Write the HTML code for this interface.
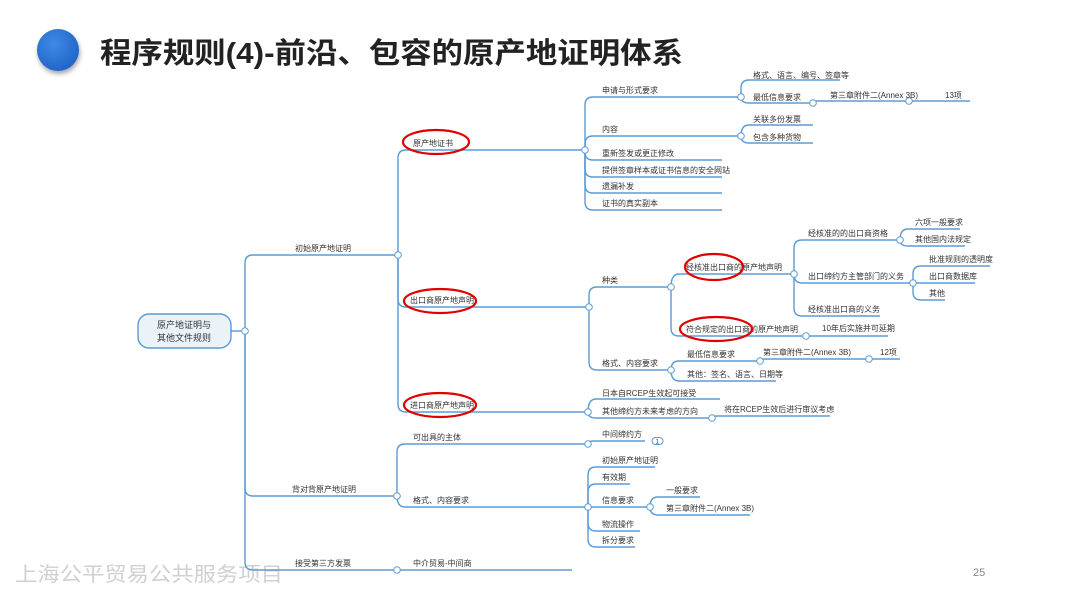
<!DOCTYPE html>
<html><head><meta charset="utf-8"><style>
html,body{margin:0;padding:0;background:#fff;}
svg{display:block;}
text{font-family:"Liberation Sans","Noto Sans CJK SC",sans-serif;font-size:8px;fill:#333;}
.l{fill:none;stroke:#5b9bd5;stroke-width:1.4;}
.c{fill:#fff;stroke:#5b9bd5;stroke-width:1;}
.e{fill:none;stroke:#e00000;stroke-width:2.2;}
</style></head><body>
<svg width="1067" height="600" viewBox="0 0 1067 600" xmlns="http://www.w3.org/2000/svg">
<defs>
<radialGradient id="g" cx="0.4" cy="0.35" r="0.7"><stop offset="0" stop-color="#3f8ae6"/><stop offset="1" stop-color="#1f63c6"/></radialGradient>
<filter id="s" x="-50%" y="-50%" width="200%" height="200%"><feDropShadow dx="1" dy="3" stdDeviation="2.5" flood-color="#000" flood-opacity="0.35"/></filter>
</defs>
<circle cx="58" cy="50" r="21" fill="url(#g)" filter="url(#s)"/>
<text x="100" y="63" style="font-size:29px;font-weight:bold;fill:#222" textLength="583" lengthAdjust="spacingAndGlyphs">程序规则(4)-前沿、包容的原产地证明体系</text>
<text x="15" y="581" style="font-size:20px;fill:#d0d0d0" textLength="268" lengthAdjust="spacingAndGlyphs">上海公平贸易公共服务项目</text>
<text x="973" y="576" style="font-size:11px;fill:#888">25</text>

<g class="l">
<path d="M231 331 H245"/>
<path d="M245 331 V263 Q245 255 253 255 H398"/>
<path d="M245 331 V488 Q245 496 253 496 H397"/>
<path d="M245 331 V562 Q245 570 253 570 H397"/>
<path d="M398 255 V158 Q398 150 406 150 H585"/>
<path d="M398 255 V299 Q398 307 406 307 H589"/>
<path d="M398 255 V404 Q398 412 406 412 H588"/>
<path d="M585 150 V105 Q585 97 593 97 H741"/>
<path d="M585 150 V144 Q585 136 593 136 H741"/>
<path d="M585 150 V152 Q585 160 593 160 H722"/>
<path d="M585 150 V169 Q585 177 593 177 H722"/>
<path d="M585 150 V185 Q585 193 593 193 H722"/>
<path d="M585 150 V202 Q585 210 593 210 H722"/>
<path d="M741 97 V88 Q741 80 749 80 H840"/>
<path d="M741 97 Q741 103 749 103 H813"/>
<path d="M813 103 Q813 101 819 101 H909 H970"/>
<path d="M741 136 Q741 125 749 125 H813"/>
<path d="M741 136 Q741 143 749 143 H813"/>
<path d="M589 307 V295 Q589 287 597 287 H671"/>
<path d="M589 307 V362 Q589 370 597 370 H671"/>
<path d="M671 287 Q671 274 679 274 H794"/>
<path d="M671 287 V328 Q671 336 679 336 H806"/>
<path d="M794 274 V248 Q794 240 802 240 H900"/>
<path d="M794 274 Q794 283 802 283 H913"/>
<path d="M794 274 V308 Q794 316 802 316 H880"/>
<path d="M900 240 Q900 229 908 229 H960"/>
<path d="M900 240 Q900 246 908 246 H965"/>
<path d="M913 283 V274 Q913 266 921 266 H990"/>
<path d="M913 283 H975"/>
<path d="M913 283 V292 Q913 300 921 300 H945"/>
<path d="M806 336 H888"/>
<path d="M671 370 Q671 361 679 361 H760"/>
<path d="M671 370 Q671 381 679 381 H776"/>
<path d="M760 361 Q760 359 766 359 H869 H900"/>
<path d="M588 412 Q588 399 596 399 H720"/>
<path d="M588 412 Q588 418 596 418 H712"/>
<path d="M712 418 Q712 416 718 416 H830"/>
<path d="M397 496 V452 Q397 444 405 444 H588"/>
<path d="M397 496 Q397 507 405 507 H588"/>
<path d="M588 444 Q588 441 594 441 H645"/>
<path d="M588 507 V475 Q588 467 596 467 H655"/>
<path d="M588 507 V492 Q588 484 596 484 H630"/>
<path d="M588 507 H650"/>
<path d="M588 507 V523 Q588 531 596 531 H640"/>
<path d="M588 507 V539 Q588 547 596 547 H635"/>
<path d="M650 507 Q650 497 658 497 H700"/>
<path d="M650 507 Q650 515 658 515 H750"/>
<path d="M397 570 H572"/>
</g>
<rect x="652" y="437.5" width="11" height="7" rx="3.5" class="c"/>
<text x="655.5" y="443.5" style="font-size:6px">1</text>

<rect x="138" y="314" width="93" height="34" rx="11" fill="#eaf2fa" stroke="#5b9bd5" stroke-width="1.4"/>
<text x="184" y="328" text-anchor="middle" style="font-size:9px">原产地证明与</text>
<text x="184" y="341" text-anchor="middle" style="font-size:9px">其他文件规则</text>

<g>
<circle class="c" cx="245" cy="331" r="3.3"/><circle class="c" cx="398" cy="255" r="3.3"/>
<circle class="c" cx="397" cy="496" r="3.3"/><circle class="c" cx="397" cy="570" r="3.3"/>
<circle class="c" cx="585" cy="150" r="3.3"/><circle class="c" cx="589" cy="307" r="3.3"/>
<circle class="c" cx="588" cy="412" r="3.3"/><circle class="c" cx="741" cy="97" r="3.3"/>
<circle class="c" cx="741" cy="136" r="3.3"/><circle class="c" cx="813" cy="103" r="3.3"/>
<circle class="c" cx="909" cy="101" r="3.3"/><circle class="c" cx="671" cy="287" r="3.3"/>
<circle class="c" cx="671" cy="370" r="3.3"/><circle class="c" cx="794" cy="274" r="3.3"/>
<circle class="c" cx="806" cy="336" r="3.3"/><circle class="c" cx="900" cy="240" r="3.3"/>
<circle class="c" cx="913" cy="283" r="3.3"/><circle class="c" cx="760" cy="361" r="3.3"/>
<circle class="c" cx="869" cy="359" r="3.3"/><circle class="c" cx="712" cy="418" r="3.3"/>
<circle class="c" cx="588" cy="444" r="3.3"/><circle class="c" cx="588" cy="507" r="3.3"/>
<circle class="c" cx="650" cy="507" r="3.3"/>
</g>

<text x="295" y="251">初始原产地证明</text>
<text x="292" y="492">背对背原产地证明</text>
<text x="295" y="566">接受第三方发票</text>
<text x="413" y="146">原产地证书</text>
<text x="410" y="303">出口商原产地声明</text>
<text x="410" y="408">进口商原产地声明</text>
<text x="602" y="93">申请与形式要求</text>
<text x="753" y="78">格式、语言、编号、签章等</text>
<text x="753" y="100">最低信息要求</text>
<text x="830" y="98">第三章附件二(Annex 3B)</text>
<text x="945" y="98">13项</text>
<text x="602" y="132">内容</text>
<text x="753" y="122">关联多份发票</text>
<text x="753" y="140">包含多种货物</text>
<text x="602" y="156">重新签发或更正修改</text>
<text x="602" y="173">提供签章样本或证书信息的安全网站</text>
<text x="602" y="189">遗漏补发</text>
<text x="602" y="206">证书的真实副本</text>
<text x="602" y="283">种类</text>
<text x="686" y="270">经核准出口商的原产地声明</text>
<text x="808" y="236">经核准的的出口商资格</text>
<text x="915" y="225">六项一般要求</text>
<text x="915" y="242">其他国内法规定</text>
<text x="808" y="279">出口缔约方主管部门的义务</text>
<text x="929" y="262">批准规则的透明度</text>
<text x="929" y="279">出口商数据库</text>
<text x="929" y="296">其他</text>
<text x="808" y="312">经核准出口商的义务</text>
<text x="686" y="332">符合规定的出口商的原产地声明</text>
<text x="822" y="331">10年后实施并可延期</text>
<text x="602" y="366">格式、内容要求</text>
<text x="687" y="357">最低信息要求</text>
<text x="763" y="355">第三章附件二(Annex 3B)</text>
<text x="880" y="355">12项</text>
<text x="687" y="377">其他：签名、语言、日期等</text>
<text x="602" y="396">日本自RCEP生效起可接受</text>
<text x="602" y="414">其他缔约方未来考虑的方向</text>
<text x="724" y="412">将在RCEP生效后进行审议考虑</text>
<text x="413" y="440">可出具的主体</text>
<text x="602" y="437">中间缔约方</text>
<text x="413" y="503">格式、内容要求</text>
<text x="602" y="463">初始原产地证明</text>
<text x="602" y="480">有效期</text>
<text x="602" y="503">信息要求</text>
<text x="666" y="493">一般要求</text>
<text x="666" y="511">第三章附件二(Annex 3B)</text>
<text x="602" y="527">物流操作</text>
<text x="602" y="543">拆分要求</text>
<text x="413" y="566">中介贸易-中间商</text>

<ellipse class="e" cx="436" cy="142" rx="33" ry="12"/>
<ellipse class="e" cx="440" cy="301" rx="36" ry="12"/>
<ellipse class="e" cx="440" cy="405" rx="36" ry="12"/>
<ellipse class="e" cx="714" cy="267" rx="29" ry="13"/>
<ellipse class="e" cx="716" cy="329" rx="36" ry="12"/>
</svg>
</body></html>
